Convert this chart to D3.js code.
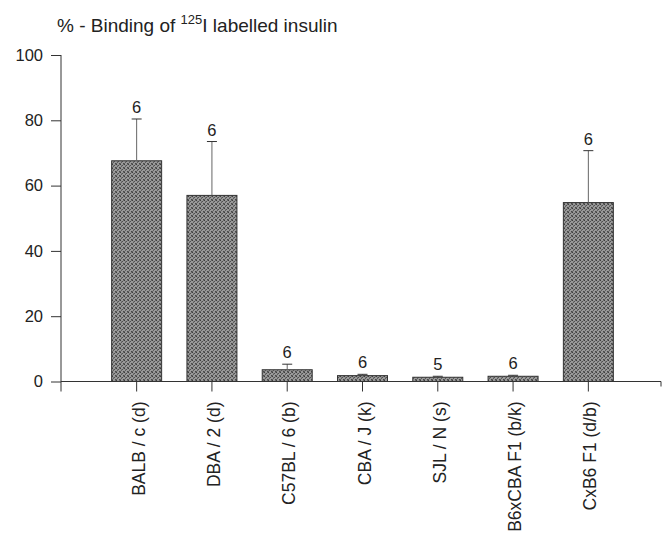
<!DOCTYPE html>
<html>
<head>
<meta charset="utf-8">
<script src="https://cdn.jsdelivr.net/npm/d3@7"></script>
<style>
  body { margin: 0; background: #fff; }
  svg text { font-family: "Liberation Sans", Arial, Helvetica, sans-serif; fill: #222; }
</style>
</head>
<body>
<div id="chart-area"></div>
<script>

// mouse strains (H-2 haplotype)
var strains = ["BALB / c (d)", "DBA / 2 (d)", "C57BL / 6 (b)", "CBA / J (k)", "SJL / N (s)", "B6xCBA F1  (b/k)", "CxB6 F1  (d/b)"];
// % binding, mean
var binding = [67.6, 57.0, 3.6, 1.8, 1.3, 1.6, 54.8];
// standard deviation
var sd = [12.8, 16.5, 1.7, 0.4, 0.3, 0.3, 15.9];
// number of animals
var nAnimals = [6, 6, 6, 6, 5, 6, 6];
var yTicks = [0, 20, 40, 60, 80, 100];

var data = strains.map(function(s, i){
    return {strain: s, value: binding[i], sd: sd[i], n: nAnimals[i]};
});

var width = 671, height = 538;

var svg = d3.select("#chart-area").append("svg")
    .attr("width", width)
    .attr("height", height);

// stippled grey fill like the printed bars
var pat = svg.append("defs").append("pattern")
    .attr("id", "stipple")
    .attr("width", 4)
    .attr("height", 4)
    .attr("patternUnits", "userSpaceOnUse");
pat.append("rect").attr("width", 4).attr("height", 4).attr("fill", "#999");
[[0,0,"#3e3e3e"], [2,1,"#505050"], [1,2,"#5c5c5c"], [3,3,"#4a4a4a"], [3,0,"#6a6a6a"], [0,3,"#606060"], [1,1,"#777"]].forEach(function(p){
    pat.append("rect").attr("x", p[0]).attr("y", p[1]).attr("width", 1).attr("height", 1).attr("fill", p[2]);
});

var axisX = 61;

var x = d3.scaleBand()
    .domain(strains)
    .range([99, 626])
    .paddingInner(0.336)
    .paddingOuter(0.168);

var y = d3.scaleLinear()
    .domain([0, 100])
    .range([381.5, 55]);

// title
var title = svg.append("text")
    .attr("x", 57)
    .attr("y", 32)
    .style("font-size", "19px");
title.append("tspan").text("% - Binding of ");
title.append("tspan").attr("dy", -8).style("font-size", "13px").text("125");
title.append("tspan").attr("dy", 8).text("I labelled insulin");

// y axis
var yAxis = d3.axisLeft(y)
    .tickValues(yTicks)
    .tickSize(10)
    .tickPadding(8);

var gy = svg.append("g")
    .attr("transform", "translate(" + axisX + ",0)")
    .call(yAxis);
gy.select(".domain").remove();
gy.selectAll("line").attr("stroke", "#333");
gy.selectAll("text").style("font-size", "16.5px").attr("fill", "#222");

svg.append("line")
    .attr("x1", axisX).attr("x2", axisX)
    .attr("y1", y(100)).attr("y2", y(0) + 10)
    .attr("stroke", "#333");

// bars
svg.selectAll(".bar")
    .data(data)
    .enter()
    .append("rect")
    .attr("class", "bar")
    .attr("x", function(d){ return x(d.strain); })
    .attr("width", x.bandwidth())
    .attr("y", function(d){ return y(d.value); })
    .attr("height", function(d){ return y(0) - y(d.value); })
    .attr("fill", "url(#stipple)")
    .attr("stroke", "#333")
    .attr("stroke-width", 1);

// error bars
var cx = function(d){ return x(d.strain) + x.bandwidth()/2; };
svg.selectAll(".err")
    .data(data)
    .enter()
    .append("line")
    .attr("class", "err")
    .attr("x1", cx).attr("x2", cx)
    .attr("y1", function(d){ return y(d.value); })
    .attr("y2", function(d){ return y(d.value + d.sd); })
    .attr("stroke", "#666");

svg.selectAll(".cap")
    .data(data)
    .enter()
    .append("line")
    .attr("class", "cap")
    .attr("x1", function(d){ return cx(d) - 5; })
    .attr("x2", function(d){ return cx(d) + 5; })
    .attr("y1", function(d){ return y(d.value + d.sd); })
    .attr("y2", function(d){ return y(d.value + d.sd); })
    .attr("stroke", "#333");

// n labels
svg.selectAll(".nlab")
    .data(data)
    .enter()
    .append("text")
    .attr("class", "nlab")
    .attr("x", cx)
    .attr("y", function(d){ return y(d.value + d.sd) - 6; })
    .attr("text-anchor", "middle")
    .style("font-size", "16.5px")
    .text(function(d){ return d.n; });

// x axis
var xAxis = d3.axisBottom(x)
    .tickSize(10)
    .tickSizeOuter(0);

var gx = svg.append("g")
    .attr("transform", "translate(0," + y(0) + ")")
    .call(xAxis);
gx.select(".domain").remove();
gx.selectAll("line").attr("stroke", "#333");
gx.selectAll("text")
    .style("font-size", "17.5px")
    .attr("fill", "#222")
    .attr("text-anchor", "end")
    .attr("transform", "rotate(-90)")
    .attr("x", -20)
    .attr("y", 8)
    .attr("dy", 0);

svg.append("line")
    .attr("x1", axisX).attr("x2", 661)
    .attr("y1", y(0)).attr("y2", y(0))
    .attr("stroke", "#333");
svg.append("line")
    .attr("x1", 661).attr("x2", 661)
    .attr("y1", y(0)).attr("y2", y(0) + 5)
    .attr("stroke", "#333");

</script>
</body>
</html>
